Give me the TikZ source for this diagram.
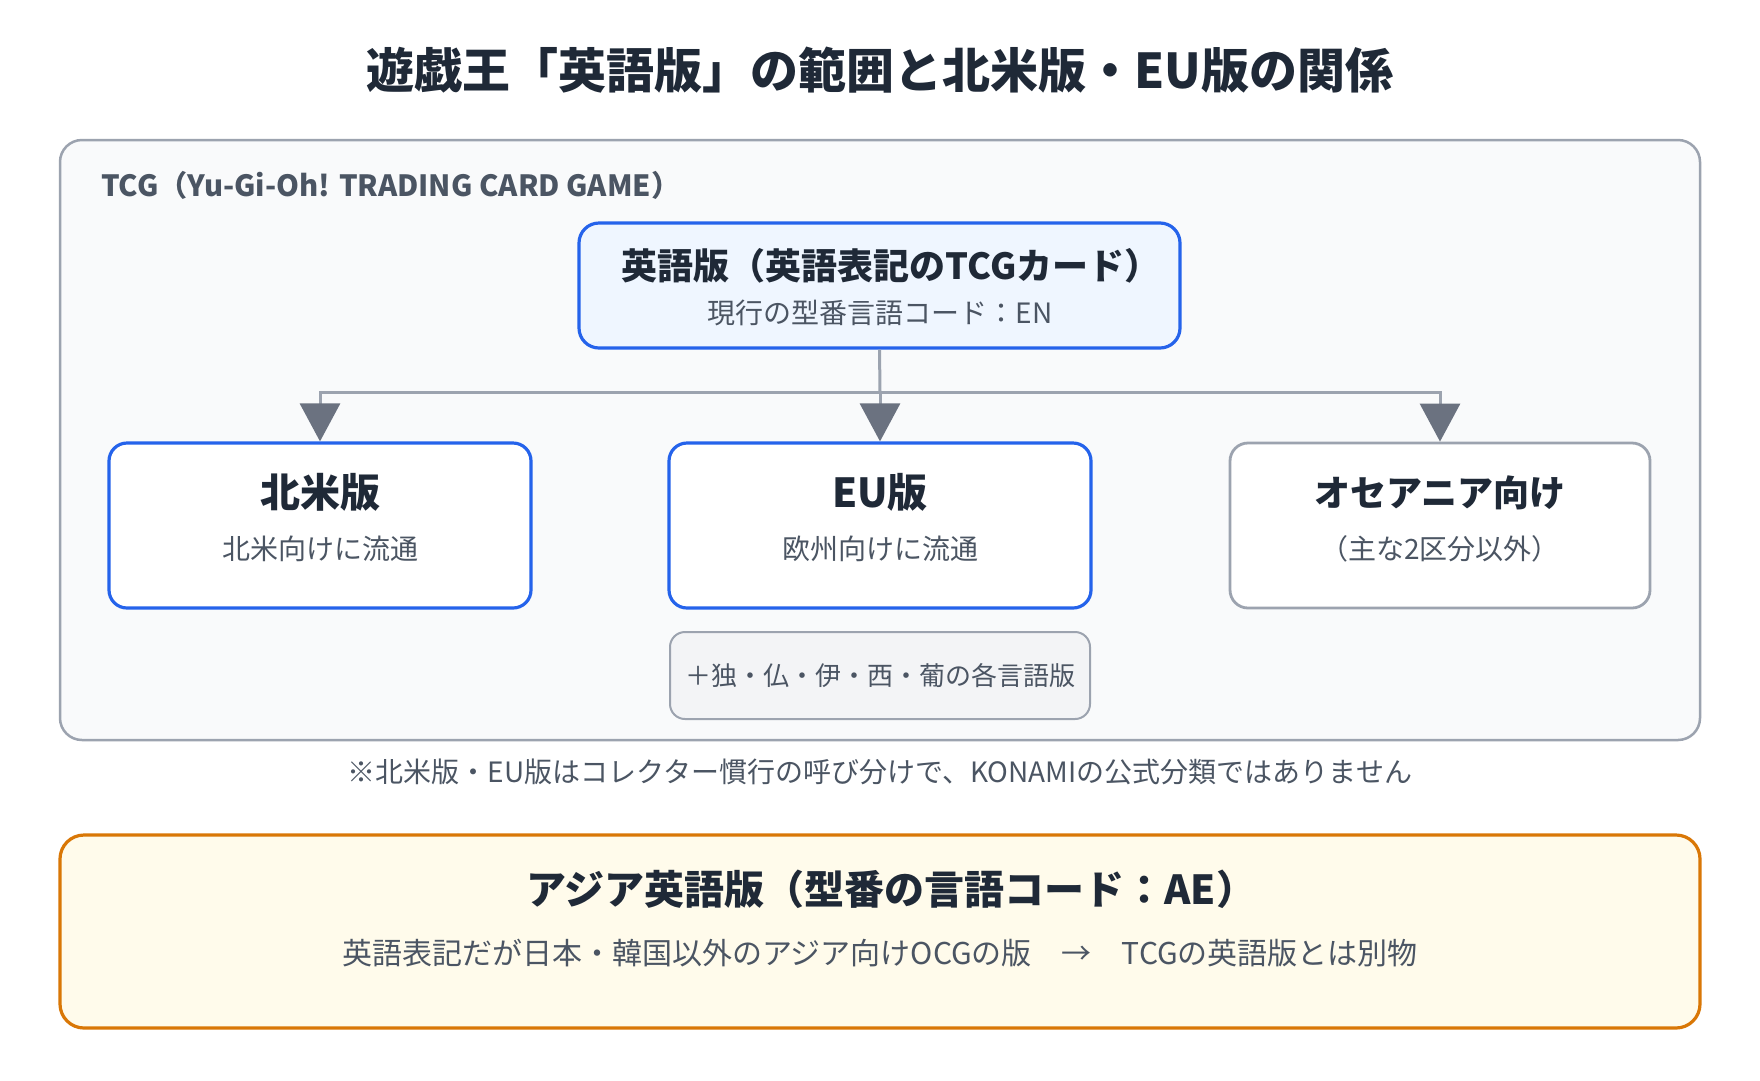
\documentclass[tikz,border=0pt]{standalone}
\usepackage{fontspec}
\setmainfont{Noto Sans CJK JP}
\usetikzlibrary{arrows.meta}
\definecolor{ink}{HTML}{1F2937}
\definecolor{subc}{HTML}{4B5563}
\definecolor{blueb}{HTML}{2563EB}
\definecolor{bluef}{HTML}{EFF6FF}
\definecolor{grayb}{HTML}{9CA3AF}
\definecolor{outerf}{HTML}{F9FAFB}
\definecolor{smallf}{HTML}{F3F4F6}
\definecolor{orangeb}{HTML}{D97706}
\definecolor{creamf}{HTML}{FFFBEB}
\definecolor{arrowc}{HTML}{6B7280}
\tikzset{
  panel/.style={draw=grayb, line width=2.5pt, fill=outerf, rounded corners=22pt, inner sep=0pt},
  bluebox/.style={draw=blueb, line width=3.2pt, fill=white, rounded corners=18pt, inner sep=0pt, minimum width=422pt, minimum height=165pt},
  graybox/.style={draw=grayb, line width=2.8pt, fill=white, rounded corners=18pt, inner sep=0pt, minimum width=420pt, minimum height=165pt},
  topbox/.style={draw=blueb, line width=3.2pt, fill=bluef, rounded corners=20pt, inner sep=0pt, minimum width=601pt, minimum height=125pt},
  smallbox/.style={draw=grayb, line width=2pt, fill=smallf, rounded corners=15pt, inner sep=0pt, minimum width=420pt, minimum height=87pt},
  asiabox/.style={draw=orangeb, line width=3.2pt, fill=creamf, rounded corners=24pt, inner sep=0pt},
  bigtitle/.style={font=\fontsize{48}{56}\selectfont\bfseries, text=ink, inner sep=0pt},
  boxtitle/.style={font=\fontsize{40}{48}\selectfont\bfseries, text=ink, inner sep=0pt},
  octitle/.style={font=\fontsize{36}{44}\selectfont\bfseries, text=ink, inner sep=0pt},
  toptitle/.style={font=\fontsize{36}{44}\selectfont\bfseries, text=ink, inner sep=0pt},
  asiatitle/.style={font=\fontsize{40}{48}\selectfont\bfseries, text=ink, inner sep=0pt},
  subtext/.style={font=\fontsize{28}{34}\selectfont, text=subc, inner sep=0pt},
  smalltext/.style={font=\fontsize{26}{32}\selectfont, text=subc, inner sep=0pt},
  asiasub/.style={font=\fontsize{30}{36}\selectfont, text=subc, inner sep=0pt},
  panellabel/.style={font=\fontsize{29.2}{36}\selectfont\bfseries, text=subc, inner sep=0pt, anchor=west},
  conn/.style={draw=grayb, line width=3pt},
  arr/.style={conn, -{Triangle[width=40pt,length=38pt,color=arrowc,fill=arrowc]}}
}
\begin{document}
\begin{tikzpicture}[x=1pt,y=-1pt]
\useasboundingbox[fill=white] (0,0) rectangle (1760,1080);

\node[bigtitle] (title) at (880,70) {遊戯王「英語版」の範囲と北米版・EU版の関係};

% TCG panel
\node[panel, minimum width=1640pt, minimum height=600pt] (tcg) at (880,440) {};
\node[panellabel] (tcglabel) at (101,185) {TCG（Yu-Gi-Oh! TRADING CARD GAME）};

% top box
\node[topbox] (top) at (879.5,285.5) {};
\node[toptitle] (topT) at (891,266) {英語版（英語表記のTCGカード）};
\node[subtext] (topS) at (880,313) {現行の型番言語コード：EN};

% three boxes
\node[bluebox] (na) at (320,525.5) {};
\node[boxtitle] (naT) at (320,492) {北米版};
\node[subtext] (naS) at (320,549) {北米向けに流通};

\node[bluebox] (eu) at (880,525.5) {};
\node[boxtitle] (euT) at (880,492) {EU版};
\node[subtext] (euS) at (880,549) {欧州向けに流通};

\node[graybox] (oc) at (1440,525.5) {};
\node[octitle] (ocT) at (1440,493) {オセアニア向け};
\node[subtext] (ocS) at (1440,549) {（主な2区分以外）};

% small box
\node[smallbox] (lang) at (880,675.5) {};
\node[smalltext] (langT) at (880,676) {＋独・仏・伊・西・葡の各言語版};

% connectors
\coordinate (j) at (880,392);
\draw[conn] (top.south) -- (j);
\draw[arr] (j) -- (eu.north);
\draw[arr] (j) -| (na.north);
\draw[arr] (j) -| (oc.north);

% note
\node[subtext] (note) at (880,772) {※北米版・EU版はコレクター慣行の呼び分けで、KONAMIの公式分類ではありません};

% Asia box
\node[asiabox, minimum width=1640pt, minimum height=193pt] (asia) at (880,931.5) {};
\node[asiatitle] (asiaT) at (891,889) {アジア英語版（型番の言語コード：AE）};
\node[asiasub] (asiaS) at (880,953) {英語表記だが日本・韓国以外のアジア向けOCGの版　→　TCGの英語版とは別物};
\end{tikzpicture}
\end{document}
